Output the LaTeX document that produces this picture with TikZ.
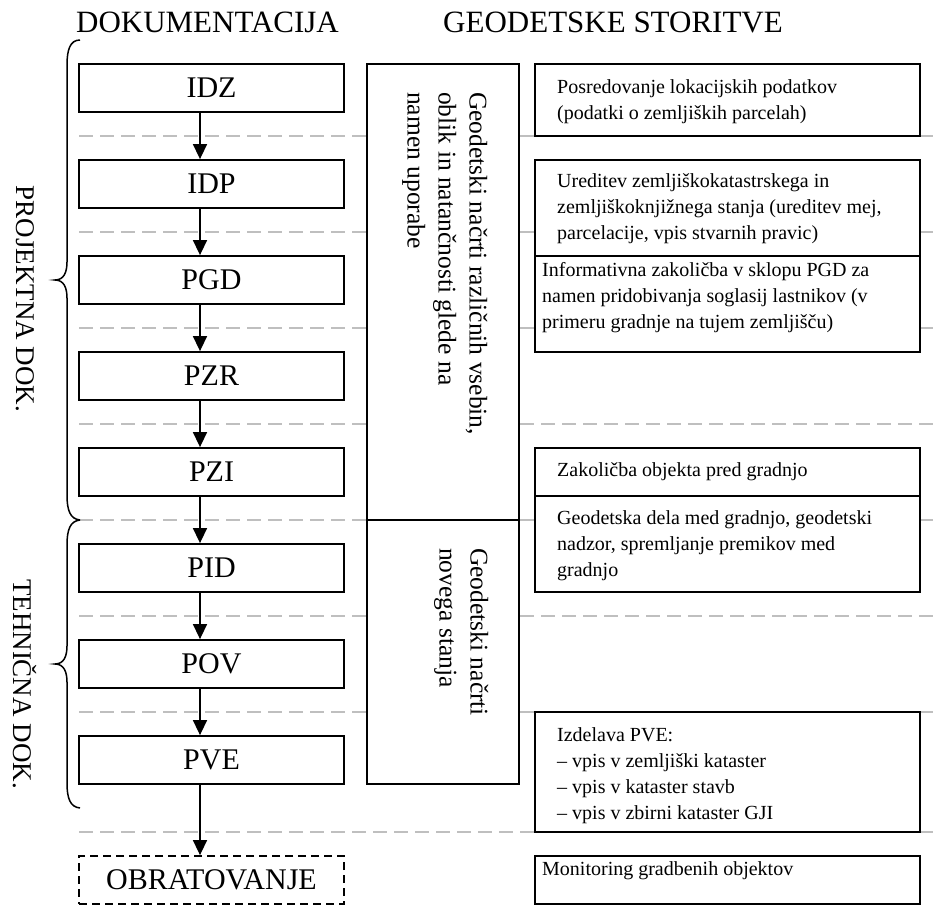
\documentclass[tikz,border=0pt]{standalone}
\usepackage{fontspec}
\setmainfont{Liberation Serif}
\usetikzlibrary{arrows.meta}
\begin{document}
\begin{tikzpicture}[x=1pt,y=-1pt,
 lbox/.style={draw, line width=1.8pt, fill=white, minimum width=265pt, minimum height=48pt, inner sep=0pt, font=\fontsize{30}{36}\selectfont},
 obox/.style={lbox, dash pattern=on 8pt off 5pt},
 mbox/.style={draw, line width=1.8pt, fill=white, minimum width=152pt, inner sep=0pt},
 rbox/.style={draw, line width=1.8pt, fill=white, minimum width=385pt, inner sep=0pt},
 rtext/.style={anchor=west, align=left, inner sep=0pt, font=\fontsize{20}{26}\selectfont},
 mtext/.style={rotate=-90, anchor=north west, align=left, inner sep=0pt, font=\fontsize{25.5}{31}\selectfont},
 vtext/.style={rotate=-90, inner sep=0pt, font=\fontsize{27}{32}\selectfont},
 headtxt/.style={anchor=base, inner sep=0pt, font=\fontsize{31}{37}\selectfont},
 arr/.style={line width=1.5pt, -{Triangle[length=15pt,width=14pt]}},
 sepline/.style={draw=gray!50, line width=2pt, dash pattern=on 14pt off 7pt},
 bracepath/.style={line width=1.5pt}
]
\useasboundingbox (0,0) rectangle (938,905);

% separators
\foreach \yy in {136,232,328,424,520,616,712,832}
  \draw[sepline] (79,\yy) -- (938,\yy);

% headers
\node[headtxt] (h1) at (207.5,32) {DOKUMENTACIJA};
\node[headtxt] (h2) at (613,32) {GEODETSKE STORITVE};

% braces
\draw[bracepath] (80,40) .. controls (70,40) and (67,50) .. (67,65) -- (67,262)
  .. controls (67,272) and (64,280) .. (55,280) .. controls (64,280) and (67,288) .. (67,298)
  -- (67,495) .. controls (67,510) and (70,519) .. (80,520);
\draw[bracepath] (80,520) .. controls (70,521) and (67,530) .. (67,545) -- (67,646)
  .. controls (67,656) and (64,664) .. (55,664) .. controls (64,664) and (67,672) .. (67,682)
  -- (67,783) .. controls (67,798) and (70,807) .. (80,808);
\node[vtext] (v1) at (25,299) {PROJEKTNA DOK.};
\node[vtext] (v2) at (25,684) {TEHNIČNA DOK.};

% left column
\node[lbox] (idz) at (211.5,88) {IDZ};
\node[lbox] (idp) at (211.5,184) {IDP};
\node[lbox] (pgd) at (211.5,280) {PGD};
\node[lbox] (pzr) at (211.5,376) {PZR};
\node[lbox] (pzi) at (211.5,472) {PZI};
\node[lbox] (pid) at (211.5,568) {PID};
\node[lbox] (pov) at (211.5,664) {POV};
\node[lbox] (pve) at (211.5,760) {PVE};
\node[obox] (obr) at (211.5,880) {OBRATOVANJE};

\coordinate (ax) at (200,0);
\draw[arr] (idz.south -| ax) -- (idp.north -| ax);
\draw[arr] (idp.south -| ax) -- (pgd.north -| ax);
\draw[arr] (pgd.south -| ax) -- (pzr.north -| ax);
\draw[arr] (pzr.south -| ax) -- (pzi.north -| ax);
\draw[arr] (pzi.south -| ax) -- (pid.north -| ax);
\draw[arr] (pid.south -| ax) -- (pov.north -| ax);
\draw[arr] (pov.south -| ax) -- (pve.north -| ax);
\draw[arr] (pve.south -| ax) -- (obr.north -| ax);

% middle column
\node[mbox, minimum height=456pt] (m1) at (443,292) {};
\node[mbox, minimum height=264pt] (m2) at (443,652) {};
\node[mtext] (m1t) at (487.5,92) {Geodetski načrti različnih vsebin,\\oblik in natančnosti glede na\\namen uporabe};
\node[mtext] (m2t) at (488.5,548) {Geodetski načrti\\novega stanja};

% right column
\node[rbox, minimum height=72pt] (r1) at (727.5,100) {};
\node[rbox, minimum height=96pt] (r2) at (727.5,208) {};
\node[rbox, minimum height=96pt] (r3) at (727.5,304) {};
\node[rbox, minimum height=48pt] (r4) at (727.5,472) {};
\node[rbox, minimum height=96pt] (r5) at (727.5,544) {};
\node[rbox, minimum height=120pt] (r6) at (727.5,772) {};
\node[rbox, minimum height=48pt] (r7) at (727.5,880) {};

\node[rtext] (r1t) at (557,101.5) {Posredovanje lokacijskih podatkov\\(podatki o zemljiških parcelah)};
\node[rtext] (r2t) at (557,209) {Ureditev zemljiškokatastrskega in\\zemljiškoknjižnega stanja (ureditev mej,\\parcelacije, vpis stvarnih pravic)};
\node[rtext] (r3t) at (542,298) {Informativna zakoličba v sklopu PGD za\\namen pridobivanja soglasij lastnikov (v\\primeru gradnje na tujem zemljišču)};
\node[rtext] (r4t) at (557,472) {Zakoličba objekta pred gradnjo};
\node[rtext] (r5t) at (557,545.5) {Geodetska dela med gradnjo, geodetski\\nadzor, spremljanje premikov med\\gradnjo};
\node[rtext] (r6t) at (557,776) {Izdelava PVE:\\– vpis v zemljiški kataster\\– vpis v kataster stavb\\– vpis v zbirni kataster GJI};
\node[rtext] (r7t) at (542,871) {Monitoring gradbenih objektov};
\end{tikzpicture}
\end{document}
